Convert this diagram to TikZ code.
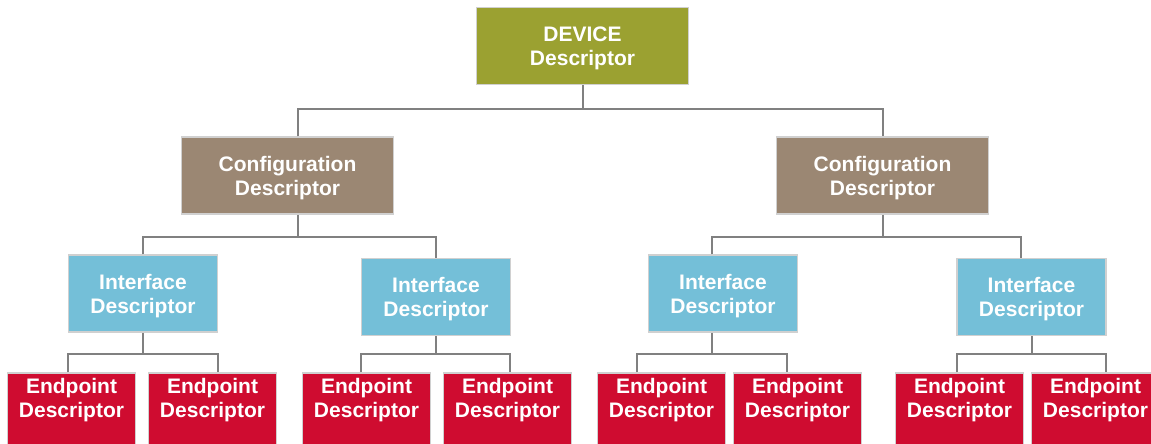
\documentclass[tikz,border=0pt]{standalone}
\usepackage{fontspec}
\setmainfont{Liberation Sans}
\usetikzlibrary{calc}
\definecolor{devfill}{RGB}{155,161,49}
\definecolor{cfgfill}{RGB}{155,135,115}
\definecolor{iffill}{RGB}{116,191,216}
\definecolor{epfill}{RGB}{207,12,48}
\definecolor{boxedge}{RGB}{208,208,208}
\definecolor{wirecol}{RGB}{128,128,128}
% taller first line, so the two lines sit a little lower in their box
\newcommand\toppad{\rule{0pt}{20pt}}
\begin{document}
\begin{tikzpicture}[x=1pt,y=-1pt,
  box/.style={draw=boxedge, line width=1.5pt, inner sep=0pt, align=center,
    text=white, font=\fontsize{21}{24}\selectfont\bfseries},
  devbox/.style={box, fill=devfill, minimum width=212pt, minimum height=77pt},
  cfgbox/.style={box, fill=cfgfill, minimum width=212pt, minimum height=77pt},
  ifbox/.style={box, fill=iffill, minimum width=149pt, minimum height=77pt},
  epbox/.style={box, fill=epfill, minimum width=128pt, minimum height=100pt, anchor=north},
  eptext/.style={inner sep=0pt, align=center, text=white, anchor=north,
    font=\fontsize{21}{24}\selectfont\bfseries},
  wire/.style={draw=wirecol, line width=2pt}]
\useasboundingbox (0,0) rectangle (1151,444);
\clip (0,0) rectangle (1151,444);

% rows of the bus lines
\coordinate (row0) at (0,109);
\coordinate (row1) at (0,237);
\coordinate (row2) at (0,354);

% boxes
\node[devbox] (dev) at (582.5,46) {\toppad DEVICE\\Descriptor};
\node[cfgbox] (cfgL) at (287.5,175.5) {\toppad Configuration\\Descriptor};
\node[cfgbox] (cfgR) at (882.5,175.5) {\toppad Configuration\\Descriptor};
\node[ifbox] (if1) at (143,293.5) {\toppad Interface\\Descriptor};
\node[ifbox] (if2) at (436,297) {\toppad Interface\\Descriptor};
\node[ifbox] (if3) at (723,293.5) {\toppad Interface\\Descriptor};
\node[ifbox] (if4) at (1031.5,297) {\toppad Interface\\Descriptor};
\foreach \n/\x in {1/71.5,2/212.5,3/366.5,4/507.5,5/661.5,6/797.5,7/959.5,8/1095.5}{
  \node[epbox] (ep\n) at (\x,372) {};
  \node[eptext] (ep\n t) at ($(ep\n.north)+(0,5.7)$) {Endpoint\\Descriptor};
}

% device to configurations
\draw[wire] (dev.south) -- (dev.south |- row0) coordinate (b0);
\draw[wire] ([xshift=10.5pt]cfgL.north) |- (b0) -| (cfgR.north);

% configurations to interfaces
\draw[wire] ([xshift=10.5pt]cfgL.south) -- ([xshift=10.5pt]cfgL.south |- row1) coordinate (b1);
\draw[wire] (if1.north) |- (b1) -| (if2.north);
\draw[wire] (cfgR.south) -- (cfgR.south |- row1) coordinate (b2);
\draw[wire] ([xshift=-11pt]if3.north) |- (b2) -| ([xshift=-10.5pt]if4.north);

% interfaces to endpoints
\draw[wire] (if1.south) -- (if1.south |- row2) coordinate (c1);
\draw[wire] ([xshift=-3.5pt]ep1.north) |- (c1) -| ([xshift=5.5pt]ep2.north);
\draw[wire] (if2.south) -- (if2.south |- row2) coordinate (c2);
\draw[wire] ([xshift=-5.5pt]ep3.north) |- (c2) -| ([xshift=2.5pt]ep4.north);
\draw[wire] ([xshift=-11pt]if3.south) -- ([xshift=-11pt]if3.south |- row2) coordinate (c3);
\draw[wire] ([xshift=-24.5pt]ep5.north) |- (c3) -| ([xshift=-10.5pt]ep6.north);
\draw[wire] (if4.south) -- (if4.south |- row2) coordinate (c4);
\draw[wire] ([xshift=-2.5pt]ep7.north) |- (c4) -| ([xshift=10.5pt]ep8.north);
\end{tikzpicture}
\end{document}
